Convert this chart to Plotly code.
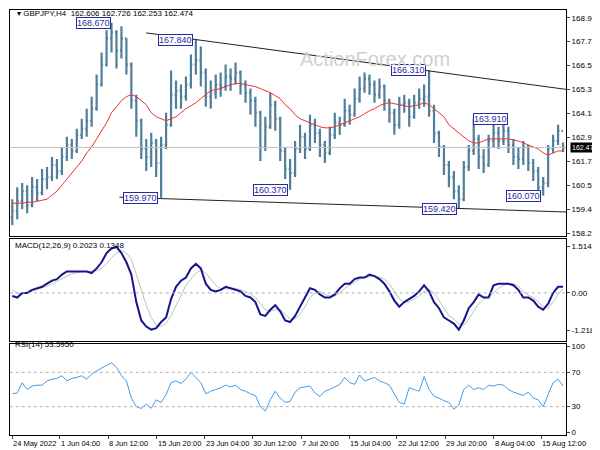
import plotly.graph_objects as go
from plotly.subplots import make_subplots

# GBPJPY H4 bars (one bar per ~5 px of the original chart)
closes = [159.3,159.8,160.3,159.6,160.5,160.2,160.9,161.0,161.6,161.3,162.0,162.6,162.3,163.1,163.4,163.8,164.4,165.6,166.6,167.9,
          168.2,167.3,167.9,166.6,164.8,163.8,162.4,162.0,162.7,161.7,162.6,163.6,165.1,165.3,165.0,165.6,166.6,166.8,166.2,165.0,
          165.2,165.6,165.5,166.0,165.9,166.2,165.6,165.2,164.8,164.2,162.5,163.5,164.6,163.9,162.3,161.4,161.2,162.4,163.0,162.4,
          163.6,163.2,162.6,162.2,163.1,163.7,163.6,164.3,164.1,164.9,165.4,165.9,165.6,165.1,165.5,164.8,164.2,163.6,164.6,164.7,
          164.0,164.7,164.9,165.0,164.3,163.2,162.5,161.6,161.0,160.3,159.9,161.5,162.3,162.9,162.0,161.6,162.8,163.2,162.8,163.3,
          162.6,162.0,161.9,162.5,161.7,161.3,160.5,160.7,162.4,162.8,163.3,162.474]
highs = [159.9,160.5,160.7,160.6,161.0,160.9,161.4,161.5,162.0,161.9,162.5,163.0,162.9,163.4,163.9,164.4,165.0,166.1,167.2,168.3,
         168.67,168.3,168.5,167.9,166.7,165.1,163.9,162.9,163.2,162.9,163.0,164.2,166.3,165.8,165.6,166.0,167.1,167.84,167.5,166.4,
         165.8,166.1,166.2,166.6,166.4,166.7,166.3,165.8,165.4,165.0,164.3,164.0,165.2,164.8,164.0,162.5,161.9,162.8,163.6,163.2,
         164.1,163.9,163.4,162.8,163.5,164.2,164.0,164.9,164.6,165.4,166.0,166.2,166.1,165.8,165.9,165.6,164.9,164.4,165.0,165.1,
         164.9,165.1,165.4,165.6,166.31,164.6,163.3,162.6,161.8,161.3,160.6,161.8,162.6,163.91,163.1,162.4,163.1,163.6,163.5,163.8,
         163.5,162.9,162.5,162.8,162.6,161.9,161.5,161.0,162.6,163.1,163.6,162.726]
lows = [158.6,158.9,159.4,159.2,159.5,159.8,160.1,160.4,160.8,160.9,161.1,161.8,161.9,162.2,162.9,163.0,163.5,164.3,165.5,166.5,
        167.2,166.4,166.9,166.1,164.4,163.0,161.9,161.3,161.5,161.0,159.97,162.4,163.5,164.4,164.4,164.8,165.4,166.1,165.5,164.5,
        164.4,164.9,165.0,165.3,165.3,165.6,165.1,164.7,164.1,163.5,161.8,162.3,163.4,163.3,161.8,160.9,160.37,161.0,162.2,161.9,
        162.3,162.7,162.0,161.7,162.1,162.9,163.1,163.5,163.6,164.0,164.7,165.2,165.1,164.7,164.9,164.3,163.7,163.1,163.4,164.2,
        163.5,163.9,164.4,164.5,164.0,162.7,162.0,161.1,160.5,159.9,159.42,159.8,161.3,162.1,161.4,161.2,161.5,162.5,162.4,162.6,
        162.2,161.6,161.4,161.6,161.3,160.8,160.2,160.07,160.5,162.2,162.6,162.253]
opens = [159.0] + closes[:-1]

ma = [159.7,159.7,159.7,159.75,159.75,159.8,159.85,159.9,160.1,160.3,160.6,160.9,161.2,161.5,161.8,162.2,162.5,162.9,163.3,163.7,
      164.2,164.5,164.8,165.0,165.1,165.0,164.8,164.6,164.2,164.0,163.9,163.8,163.9,164.0,164.2,164.4,164.55,164.7,164.9,165.1,
      165.3,165.35,165.4,165.5,165.6,165.65,165.66,165.6,165.55,165.5,165.4,165.3,165.2,165.05,164.9,164.6,164.4,164.1,163.9,163.8,
      163.7,163.6,163.5,163.45,163.45,163.5,163.6,163.7,163.8,163.9,164.0,164.15,164.3,164.4,164.55,164.65,164.7,164.65,164.6,164.55,
      164.5,164.55,164.6,164.7,164.6,164.4,164.2,164.0,163.6,163.4,163.2,163.0,162.8,162.7,162.7,162.8,162.9,162.9,162.9,162.9,
      162.9,162.85,162.8,162.7,162.6,162.5,162.4,162.2,162.1,162.2,162.3,162.3]

macd = [-0.1,-0.15,0.0,0.0,0.1,0.15,0.2,0.3,0.4,0.45,0.6,0.7,0.7,0.7,0.72,0.7,0.65,0.8,1.0,1.3,
        1.45,1.5,1.3,1.0,0.6,-0.3,-0.9,-1.1,-1.2,-1.15,-0.95,-0.8,-0.2,0.2,0.4,0.5,0.8,0.95,0.8,0.3,
        0.1,0.05,0.1,0.2,0.15,0.1,0.05,-0.1,-0.15,-0.3,-0.7,-0.75,-0.55,-0.4,-0.6,-0.9,-0.95,-0.75,-0.45,-0.2,
        0.15,0.1,-0.05,-0.15,-0.15,-0.05,0.15,0.3,0.3,0.45,0.5,0.5,0.6,0.55,0.45,0.3,0.05,-0.25,-0.45,-0.3,
        -0.2,-0.1,0.05,0.25,0.05,-0.3,-0.5,-0.8,-0.9,-1.0,-1.2,-0.9,-0.5,-0.3,-0.05,-0.15,-0.15,0.25,0.3,0.3,
        0.3,0.25,0.1,-0.15,-0.15,-0.25,-0.45,-0.55,-0.35,0.0,0.2,0.2]
signal = [0.1,0.0,-0.05,0.0,0.05,0.1,0.15,0.22,0.3,0.38,0.45,0.55,0.62,0.66,0.7,0.7,0.7,0.72,0.8,0.95,
          1.15,1.3,1.4,1.3,1.1,0.6,0.1,-0.4,-0.8,-1.05,-1.1,-1.0,-0.75,-0.4,-0.05,0.25,0.45,0.65,0.75,0.65,
          0.45,0.25,0.15,0.12,0.15,0.15,0.1,0.05,-0.05,-0.15,-0.35,-0.55,-0.6,-0.55,-0.55,-0.7,-0.85,-0.85,-0.7,-0.45,
          -0.15,0.0,0.05,-0.05,-0.1,-0.1,0.0,0.15,0.25,0.35,0.45,0.5,0.52,0.55,0.52,0.45,0.3,0.05,-0.2,-0.3,
          -0.3,-0.2,-0.1,0.05,0.1,0.0,-0.25,-0.5,-0.75,-0.85,-1.0,-1.05,-0.85,-0.6,-0.35,-0.2,-0.15,0.0,0.15,0.25,
          0.3,0.3,0.22,0.05,-0.08,-0.15,-0.3,-0.45,-0.5,-0.3,-0.05,0.13]

rsi = [45,46,58,50,54,55,55,60,62,63,66,60,63,64,66,62,68,72,75,78,
       81,76,66,60,40,30,28,33,28,38,35,44,58,60,57,62,70,64,58,45,
       48,50,52,55,53,55,50,48,45,43,30,25,38,48,40,35,36,47,52,53,
       54,46,42,48,50,53,56,64,58,56,67,60,62,64,60,58,55,45,35,33,
       52,50,48,65,50,42,40,37,35,27,32,50,55,50,52,50,55,54,56,55,
       50,47,45,43,47,40,38,30,44,58,62,54]

date_labels = ["24 May 2022", "1 Jun 04:00", "8 Jun 12:00", "15 Jun 20:00", "23 Jun 04:00", "30 Jun 12:00",
               "7 Jul 20:00", "15 Jul 04:00", "22 Jul 12:00", "29 Jul 20:00", "8 Aug 04:00", "15 Aug 12:00"]
date_pos = [0, 9.6, 19.3, 29.1, 38.8, 48.4, 58.2, 67.9, 77.5, 87.3, 97.0, 106.6]

price_ticks = [168.925, 167.735, 166.545, 165.355, 164.165, 162.975, 161.785, 160.595, 159.405, 158.215]

# trend lines (bar index, price)
upper_line = [(27, 168.17), (112, 165.35)]
lower_line = [(21.6, 160.0), (112, 159.26)]

# swing labels: (bar, price, text, side)
swing_labels = [(19.8, 168.67, "168.670", "right"), (36.4, 167.84, "167.840", "right"),
                (29.4, 159.97, "159.970", "right"), (55.6, 160.37, "160.370", "right"),
                (83.4, 166.31, "166.310", "right"), (89.6, 159.42, "159.420", "right"),
                (92.8, 163.91, "163.910", "left"), (106.6, 160.07, "160.070", "right")]

bar_color = "#4f7f9b"
n = len(closes)
x = list(range(n))

fig = make_subplots(rows=3, cols=1, shared_xaxes=True)

fig.add_trace(go.Ohlc(x=x, open=opens, high=highs, low=lows, close=closes, tickwidth=0.3,
                      increasing=dict(line=dict(color=bar_color, width=2.2)),
                      decreasing=dict(line=dict(color=bar_color, width=2.2)),
                      hoverinfo="skip"), row=1, col=1)
fig.add_trace(go.Scatter(x=x, y=ma, mode="lines", line=dict(color="#f03030", width=1)), row=1, col=1)
fig.add_trace(go.Scatter(x=[p[0] for p in upper_line], y=[p[1] for p in upper_line], mode="lines",
                         line=dict(color="#202020", width=1)), row=1, col=1)
fig.add_trace(go.Scatter(x=[p[0] for p in lower_line], y=[p[1] for p in lower_line], mode="lines",
                         line=dict(color="#202020", width=1)), row=1, col=1)

fig.add_trace(go.Scatter(x=x, y=signal, mode="lines", line=dict(color="#c0c0c0", width=1)), row=2, col=1)
fig.add_trace(go.Scatter(x=x, y=macd, mode="lines", line=dict(color="#14148c", width=2)), row=2, col=1)

fig.add_trace(go.Scatter(x=x, y=rsi, mode="lines", line=dict(color="#3d9df0", width=1)), row=3, col=1)

H = 450.0
def dom(top, bottom):
    return [1 - bottom / H, 1 - top / H]

axis_common = dict(showgrid=False, zeroline=False, showline=True, linecolor="#000000", mirror=True,
                   tickfont=dict(size=8, family="Liberation Sans", color="#000000"), automargin=False)
xr = [-0.5, 111.6]
xd = [0.003, 0.93]
fig.update_layout(
    width=600, height=450, margin=dict(l=0, r=0, t=0, b=0), showlegend=False,
    paper_bgcolor="white", plot_bgcolor="white",
    xaxis=dict(domain=xd, range=xr, showticklabels=False, rangeslider=dict(visible=False), **axis_common),
    xaxis2=dict(domain=xd, range=xr, showticklabels=False, **axis_common),
    xaxis3=dict(domain=xd, range=xr, tickvals=date_pos, ticktext=[""] * len(date_pos), ticks="outside",
                ticklen=3, **axis_common),
    yaxis=dict(domain=dom(2, 228), range=[158.07, 169.31], side="right", tickvals=price_ticks,
               ticktext=[f"{v:.3f}" for v in price_ticks], ticks="outside", ticklen=3, **axis_common),
    yaxis2=dict(domain=dom(231, 333), range=[-1.57, 1.76], side="right", tickvals=[1.514, 0, -1.2185],
                ticktext=["1.514", "0.00", "-1.2185"], ticks="outside", ticklen=3, **axis_common),
    yaxis3=dict(domain=dom(336, 427), range=[-3, 103], side="right", tickvals=[100, 70, 30, 0],
                ticktext=["100", "70", "30", "0"], ticks="outside", ticklen=3, **axis_common),
)

for pos, lab in zip(date_pos, date_labels):
    fig.add_annotation(x=pos, xref="x3", yref="paper", y=1 - 429 / H, text=lab, showarrow=False,
                       xanchor="left", yanchor="top", xshift=-1,
                       font=dict(size=7.5, family="Liberation Sans", color="#000000"))

# current price and reference levels
fig.add_shape(type="line", xref="x", yref="y", x0=xr[0], x1=xr[1], y0=closes[-1], y1=closes[-1],
              line=dict(color="#c0c0c0", width=1))
fig.add_shape(type="line", xref="x2", yref="y2", x0=xr[0], x1=xr[1], y0=0, y1=0,
              line=dict(color="#b0b0b0", width=1, dash="dot"))
for lvl in [70, 30]:
    fig.add_shape(type="line", xref="x3", yref="y3", x0=xr[0], x1=xr[1], y0=lvl, y1=lvl,
                  line=dict(color="#b0b0b0", width=1, dash="dot"))

fig.add_annotation(xref="paper", yref="y", x=0.936, y=closes[-1], text="162.474", showarrow=False,
                   xanchor="left", bgcolor="#000000", font=dict(color="white", size=7, family="Liberation Sans"),
                   borderpad=1)

for bx, py, txt, side in swing_labels:
    fig.add_annotation(x=bx, y=py, xref="x", yref="y", text=txt, showarrow=False,
                       xanchor=side, yanchor="middle", bgcolor="white", bordercolor="#2a2aa0", borderwidth=1,
                       borderpad=0, font=dict(color="#2a2aa0", size=9, family="Liberation Sans"))

fig.add_annotation(xref="paper", yref="paper", x=0.012, y=1 - 6 / H, text="▾ GBPJPY,H4  162.606 162.726 162.253 162.474",
                   showarrow=False, xanchor="left", yanchor="middle",
                   font=dict(size=8, family="Liberation Sans", color="#000000"))
fig.add_annotation(xref="paper", yref="paper", x=0.74, y=1 - 38 / H, text="ActionForex.com", showarrow=False,
                   font=dict(size=20, family="Liberation Sans", color="#d0d0d0"))
fig.add_annotation(xref="paper", yref="paper", x=0.008, y=1 - 238 / H, text="MACD(12,26,9) 0.2023 0.1348",
                   showarrow=False, xanchor="left", font=dict(size=8, family="Liberation Sans", color="#000000"))
fig.add_annotation(xref="paper", yref="paper", x=0.008, y=1 - 343 / H, text="RSI(14) 53.5950",
                   showarrow=False, xanchor="left", font=dict(size=8, family="Liberation Sans", color="#000000"))

fig.write_html("out.html")
